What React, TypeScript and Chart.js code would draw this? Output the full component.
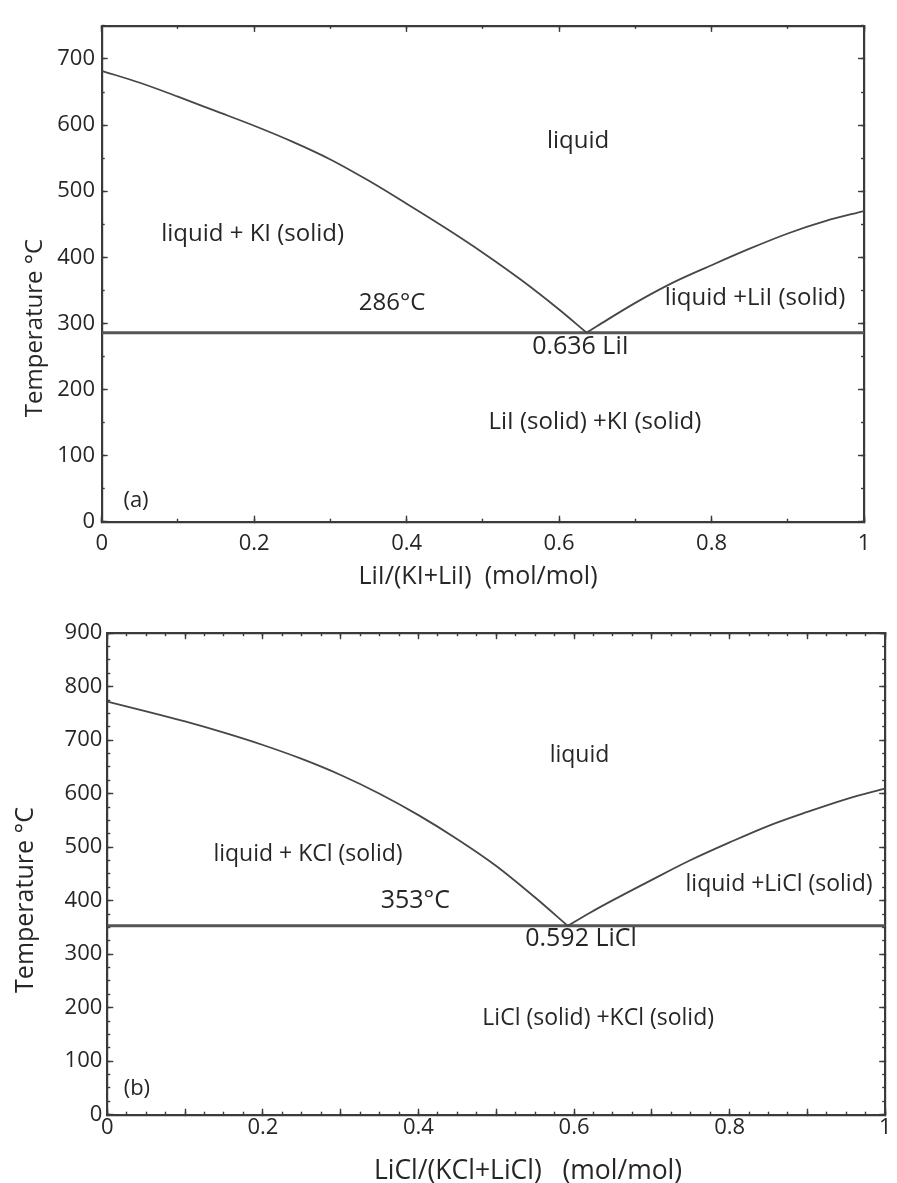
import React, { useEffect, useRef } from 'react';
import { Chart, registerables } from 'chart.js';

Chart.register(...registerables);

// ---------------- Data: panel (a) KI – LiI ----------------
const aKISideX = [0, 0.05, 0.1, 0.15, 0.2, 0.25, 0.3, 0.35, 0.4, 0.45, 0.5, 0.55, 0.6, 0.636];
const aKISideT = [682, 664, 643, 621, 599, 575, 548, 516, 481, 445, 407, 366, 321, 286];
const aLiISideX = [0.636, 0.65, 0.7, 0.75, 0.8, 0.85, 0.9, 0.95, 1.0];
const aLiISideT = [286, 296, 331, 362, 388, 413, 436, 455, 470];
const aEutecticX = [0, 1];
const aEutecticT = [286, 286];
const aYTickLabels = [0, 100, 200, 300, 400, 500, 600, 700];

// ---------------- Data: panel (b) KCl – LiCl ----------------
const bKClSideX = [0, 0.05, 0.1, 0.15, 0.2, 0.25, 0.3, 0.35, 0.4, 0.45, 0.5, 0.55, 0.592];
const bKClSideT = [772, 754, 735, 714, 691, 665, 635, 600, 560, 515, 465, 406, 353];
const bLiClSideX = [0.592, 0.62, 0.65, 0.7, 0.75, 0.8, 0.85, 0.9, 0.95, 1.0];
const bLiClSideT = [353, 377, 401, 439, 476, 509, 540, 566, 590, 610];
const bEutecticX = [0, 1];
const bEutecticT = [353, 353];
const bYTickLabels = [0, 100, 200, 300, 400, 500, 600, 700, 800, 900];

const xTickLabels = [0, 0.2, 0.4, 0.6, 0.8, 1];

type Note = { text: string; x: number; y: number; role: 'region' | 'value' | 'tag' };

const aNotes: Note[] = [
  { text: 'liquid', x: 0.625, y: 575, role: 'region' },
  { text: 'liquid + KI (solid)', x: 0.198, y: 435, role: 'region' },
  { text: '286°C', x: 0.381, y: 330, role: 'region' },
  { text: 'liquid +LiI (solid)', x: 0.857, y: 338, role: 'region' },
  { text: '0.636 LiI', x: 0.628, y: 265, role: 'value' },
  { text: 'LiI (solid) +KI (solid)', x: 0.647, y: 151, role: 'region' },
  { text: '(a)', x: 0.045, y: 31, role: 'tag' },
];

const bNotes: Note[] = [
  { text: 'liquid', x: 0.607, y: 671, role: 'region' },
  { text: 'liquid + KCl (solid)', x: 0.258, y: 487, role: 'region' },
  { text: '353°C', x: 0.396, y: 400, role: 'value' },
  { text: 'liquid +LiCl (solid)', x: 0.8635, y: 431, role: 'region' },
  { text: '0.592 LiCl', x: 0.609, y: 328, role: 'value' },
  { text: 'LiCl (solid) +KCl (solid)', x: 0.631, y: 179, role: 'region' },
  { text: '(b)', x: 0.038, y: 49, role: 'tag' },
];

// ---------------- Styling / layout ----------------
const INK = '#262626';
const LINE = '#474747';
const FRAME = '#3a3a3a';
const FONT = '"Open Sans", "DejaVu Sans", sans-serif';
const PAGE_W = 897;

type Panel = {
  top: number;
  height: number;
  chartLeft: number;
  chartTop: number;
  chartRight: number;
  chartBottom: number;
  yMax: number;
  yMajor: number;
  yMinor: number;
  xMajor: number;
  xMinor: number;
  yLabels: number[];
  leftX: number[];
  leftT: number[];
  rightX: number[];
  rightT: number[];
  eutX: number[];
  eutT: number[];
  notes: Note[];
  xTitle: string;
  yTitle: string;
  xTitlePos: [number, number];
  yTitlePos: [number, number];
  fonts: { tick: number; region: number; value: number; tag: number; title: number; yTitle: number };
  xTickPad: number;
  yTickPad: number;
};

const panelA: Panel = {
  top: 0,
  height: 600,
  chartLeft: 101.7,
  chartTop: 15.4,
  chartRight: 864,
  chartBottom: 521.7,
  yMax: 750,
  yMajor: 100,
  yMinor: 50,
  xMajor: 0.2,
  xMinor: 0.1,
  yLabels: aYTickLabels,
  leftX: aKISideX,
  leftT: aKISideT,
  rightX: aLiISideX,
  rightT: aLiISideT,
  eutX: aEutecticX,
  eutT: aEutecticT,
  notes: aNotes,
  xTitle: 'LiI/(KI+LiI)  (mol/mol)',
  yTitle: 'Temperature °C',
  xTitlePos: [478, 577],
  yTitlePos: [35, 328],
  fonts: { tick: 22, region: 24, value: 25, tag: 22, title: 25, yTitle: 24 },
  xTickPad: 14.5,
  yTickPad: 12.7,
};

const panelB: Panel = {
  top: 600,
  height: 583,
  chartLeft: 107.3,
  chartTop: 33.2,
  chartRight: 888.5,
  chartBottom: 514.7,
  yMax: 900,
  yMajor: 100,
  yMinor: 25,
  xMajor: 0.1,
  xMinor: 0.025,
  yLabels: bYTickLabels,
  leftX: bKClSideX,
  leftT: bKClSideT,
  rightX: bLiClSideX,
  rightT: bLiClSideT,
  eutX: bEutecticX,
  eutT: bEutecticT,
  notes: bNotes,
  xTitle: 'LiCl/(KCl+LiCl)   (mol/mol)',
  yTitle: 'Temperature °C',
  xTitlePos: [528, 571],
  yTitlePos: [26, 300],
  fonts: { tick: 22, region: 23, value: 25, tag: 22, title: 26.5, yTitle: 25 },
  xTickPad: 5.5,
  yTickPad: 11,
};

const near = (a: number, b: number) => Math.abs(a - b) < 1e-6;
const pts = (xs: number[], ys: number[]) => xs.map((x, i) => ({ x, y: ys[i] }));
const fmtX = (v: number) => (near(v, 0) ? '0' : near(v, 1) ? '1' : v.toFixed(1));

function tickScale(position: string, isX: boolean, max: number, step: number, len: number, weight: number) {
  return {
    type: 'linear',
    position,
    min: 0,
    max,
    weight,
    display: true,
    ticks: { display: false, stepSize: step, maxTicksLimit: 1000, includeBounds: false, autoSkip: false },
    grid: {
      drawOnChartArea: false,
      drawTicks: true,
      tickLength: -len,
      color: FRAME,
      lineWidth: 1,
      tickWidth: 1.4,
    },
    border: { display: false },
    afterFit: (s: any) => {
      if (isX) s.height = 0;
      else s.width = 0;
    },
  };
}

function buildConfig(p: Panel): any {
  const tickFont = { family: FONT, size: p.fonts.tick };
  const frameBorder = { display: true, color: FRAME, width: 2.2 };

  const x = {
    ...tickScale('bottom', true, 1, p.xMajor, 6, 2),
    ticks: {
      display: true,
      stepSize: p.xMajor,
      maxTicksLimit: 1000,
      includeBounds: false,
      autoSkip: false,
      maxRotation: 0,
      minRotation: 0,
      padding: p.xTickPad,
      color: INK,
      font: tickFont,
      callback: (v: number) => (xTickLabels.some((l) => near(l, v)) ? fmtX(v) : ''),
    },
    border: frameBorder,
    afterFit: (s: any) => {
      s.height = p.height - p.chartBottom;
    },
  };

  const y = {
    ...tickScale('left', false, p.yMax, p.yMajor, 6, 2),
    ticks: {
      display: true,
      stepSize: p.yMajor,
      maxTicksLimit: 1000,
      includeBounds: false,
      autoSkip: false,
      padding: p.yTickPad,
      color: INK,
      font: tickFont,
      callback: (v: number) => (p.yLabels.some((l) => near(l, v)) ? String(Math.round(v)) : ''),
    },
    border: frameBorder,
    afterFit: (s: any) => {
      s.width = p.chartLeft;
    },
  };

  const xTop = { ...tickScale('top', true, 1, p.xMajor, 6, 2), border: frameBorder };
  const yRight = { ...tickScale('right', false, p.yMax, p.yMajor, 6, 2), border: frameBorder };

  const textPlugin = {
    id: 'phaseText',
    afterDraw(chart: any) {
      const { ctx, scales } = chart;
      const sx = scales.x;
      const sy = scales.y;
      ctx.save();
      ctx.fillStyle = INK;
      ctx.textAlign = 'center';
      ctx.textBaseline = 'middle';
      for (const n of p.notes) {
        ctx.font = `${p.fonts[n.role]}px ${FONT}`;
        ctx.fillText(n.text, sx.getPixelForValue(n.x), sy.getPixelForValue(n.y));
      }
      ctx.font = `${p.fonts.title}px ${FONT}`;
      ctx.fillText(p.xTitle, p.xTitlePos[0], p.xTitlePos[1]);
      ctx.font = `${p.fonts.yTitle}px ${FONT}`;
      ctx.translate(p.yTitlePos[0], p.yTitlePos[1]);
      ctx.rotate(-Math.PI / 2);
      ctx.fillText(p.yTitle, 0, 0);
      ctx.restore();
    },
  };

  const lineStyle = {
    showLine: true,
    borderColor: LINE,
    pointRadius: 0,
    fill: false,
  };

  return {
    type: 'scatter',
    data: {
      datasets: [
        { ...lineStyle, data: pts(p.leftX, p.leftT), borderWidth: 1.8, cubicInterpolationMode: 'monotone' },
        { ...lineStyle, data: pts(p.rightX, p.rightT), borderWidth: 1.8, cubicInterpolationMode: 'monotone' },
        { ...lineStyle, data: pts(p.eutX, p.eutT), borderWidth: 3, borderColor: '#555555' },
      ],
    },
    options: {
      responsive: false,
      maintainAspectRatio: false,
      animation: false,
      devicePixelRatio: 1,
      events: [],
      layout: {
        padding: { top: p.chartTop, right: PAGE_W - p.chartRight, bottom: 0, left: 0 },
      },
      plugins: { legend: { display: false }, tooltip: { enabled: false }, title: { display: false } },
      scales: {
        x,
        xMinor: tickScale('bottom', true, 1, p.xMinor, 3, 0),
        xTop,
        xTopMinor: tickScale('top', true, 1, p.xMinor, 3, 0),
        y,
        yMinor: tickScale('left', false, p.yMax, p.yMinor, 3, 0),
        yRight,
        yRightMinor: tickScale('right', false, p.yMax, p.yMinor, 3, 0),
      },
    },
    plugins: [textPlugin],
  };
}

function PhasePanel({ spec }: { spec: Panel }) {
  const ref = useRef<HTMLCanvasElement | null>(null);
  useEffect(() => {
    if (!ref.current) return;
    const chart = new Chart(ref.current, buildConfig(spec));
    return () => chart.destroy();
  }, [spec]);
  return (
    <canvas
      ref={ref}
      width={PAGE_W}
      height={spec.height}
      style={{ position: 'absolute', left: 0, top: spec.top, width: PAGE_W, height: spec.height }}
    />
  );
}

export default function App() {
  return (
    <div style={{ position: 'absolute', left: 0, top: 0, width: PAGE_W, height: 1183, background: '#ffffff' }}>
      <PhasePanel spec={panelA} />
      <PhasePanel spec={panelB} />
    </div>
  );
}
